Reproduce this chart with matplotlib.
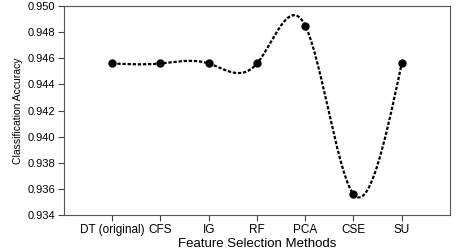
import numpy as np
import matplotlib
matplotlib.use("Agg")
import matplotlib.pyplot as plt

methods = ["DT (original)", "CFS", "IG", "RF", "PCA", "CSE", "SU"]
accuracy = [0.9456, 0.9456, 0.9456, 0.9456, 0.9485, 0.9356, 0.9456]
yticks = [0.934, 0.936, 0.938, 0.940, 0.942, 0.944, 0.946, 0.948, 0.950]


def natural_spline(x, y, n=400):
    x = np.asarray(x, float)
    y = np.asarray(y, float)
    k = len(x)
    h = np.diff(x)
    A = np.zeros((k, k))
    b = np.zeros(k)
    A[0, 0] = 1
    A[-1, -1] = 1
    for i in range(1, k - 1):
        A[i, i - 1] = h[i - 1]
        A[i, i] = 2 * (h[i - 1] + h[i])
        A[i, i + 1] = h[i]
        b[i] = 6 * ((y[i + 1] - y[i]) / h[i] - (y[i] - y[i - 1]) / h[i - 1])
    M = np.linalg.solve(A, b)
    xs = np.linspace(x[0], x[-1], n)
    ys = np.empty_like(xs)
    for j, xv in enumerate(xs):
        i = min(np.searchsorted(x, xv, side="right") - 1, k - 2)
        t0 = x[i + 1] - xv
        t1 = xv - x[i]
        ys[j] = (M[i] * t0 ** 3 + M[i + 1] * t1 ** 3) / (6 * h[i]) \
            + (y[i] / h[i] - M[i] * h[i] / 6) * t0 \
            + (y[i + 1] / h[i] - M[i + 1] * h[i] / 6) * t1
    return xs, ys


plt.rcParams["font.family"] = ["Liberation Sans", "DejaVu Sans"]
fig = plt.figure(figsize=(4.58, 2.5), dpi=100)
ax = fig.add_axes([0.1397, 0.14, 0.8428, 0.836])

x = np.arange(1, len(methods) + 1)
xs, ys = natural_spline(x, accuracy)
ax.plot(xs, ys, color="black", linestyle=(0, (1.5, 0.8)), linewidth=1.6)
ax.plot(x, accuracy, "o", color="black", markersize=5)

ax.set_xlim(0, 8)
ax.set_ylim(0.934, 0.950)
ax.set_xticks(x)
ax.set_xticklabels(methods, fontsize=8.5)
ax.set_yticks(yticks)
ax.set_yticklabels([f"{v:.3f}" for v in yticks], fontsize=8)
ax.tick_params(direction="out", length=4, width=0.8, color="#444444", pad=2.5)
ax.set_xlabel("Feature Selection Methods", fontsize=9.5)
ax.xaxis.set_label_coords(0.5, -0.14)
ax.xaxis.label.set_verticalalignment("center")
ax.set_ylabel("Classification Accuracy", fontsize=7.5, labelpad=3)
for s in ax.spines.values():
    s.set_color("#555555")
    s.set_linewidth(0.8)

fig.savefig("out.png", dpi=100)
